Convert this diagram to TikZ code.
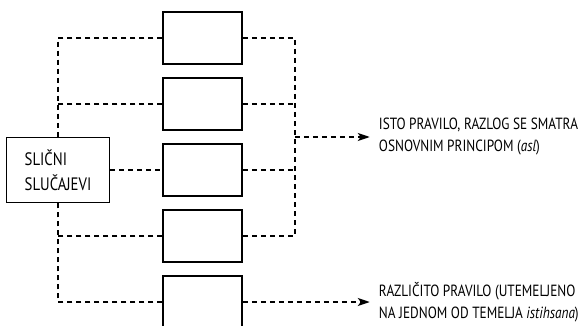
\documentclass[tikz,border=0pt]{standalone}
\usepackage{fontspec}
\setmainfont{PT Sans}[FakeStretch=0.82]
\usepackage{tikz}
\usetikzlibrary{positioning, arrows.meta, calc}
\tikzset{
  kutija/.style={rectangle, minimum width=79pt, minimum height=52pt, draw=black, line width=1.5pt, fill=white},
  slucaj/.style={rectangle, minimum width=103pt, minimum height=65pt, align=left, draw=black, line width=1.5pt, font=\fontsize{18}{25}\selectfont},
  opis/.style={align=left, inner sep=0pt, font=\fontsize{16.2}{22}\selectfont},
  veza/.style={dashed, dash pattern=on 5pt off 4pt, line width=1.5pt},
  strelica/.style={veza, -{Stealth[length=12pt, width=8pt, inset=3pt]}}
}
\begin{document}
\begin{tikzpicture}[x=1pt, y=-1pt, node distance=12.5pt]
    \useasboundingbox (0,0) rectangle (588,326);

    % Srednja kolona - kutije
    \node (b1) [kutija] at (202.5,38) {};
    \node (b2) [kutija, below=of b1] {};
    \node (b3) [kutija, below=of b2] {};
    \node (b4) [kutija, below=of b3] {};
    \node (b5) [kutija, below=of b4] {};

    % Lijevo - slicni slucajevi
    \node (sl) [slucaj, left=52pt of b3] {SLIČNI\\SLUČAJEVI};
    \draw [veza] (b1.west) -| (sl.north);
    \draw [veza] (b2.west) -- (b2.west -| sl.north);
    \draw [veza] (sl.east) -- (b3.west);
    \draw [veza] (b4.west) -- (b4.west -| sl.south);
    \draw [veza] (b5.west) -| (sl.south);

    % Desno - ishodi
    \coordinate (rj) at ($(b1.east)+(52,0)$);
    \coordinate (rs) at (rj |- 0,137);
    \node (t1) [opis, right=84pt of rs] {ISTO PRAVILO, RAZLOG SE SMATRA\\OSNOVNIM PRINCIPOM (\textit{asl})};
    \node (t2) [opis, right=136pt of b5] {RAZLIČITO PRAVILO (UTEMELJENO\\NA JEDNOM OD TEMELJA \textit{istihsana})};
    \draw [veza] (b1.east) -- (rj) |- (b4.east);
    \draw [veza] (b2.east) -- (b2.east -| rj);
    \draw [veza] (b3.east) -- (b3.east -| rj);
    \draw [strelica] (rs) -- ($(t1.west)+(-9,0)$);
    \draw [strelica] (b5.east) -- ($(t2.west)+(-9,0)$);

\end{tikzpicture}
\end{document}
